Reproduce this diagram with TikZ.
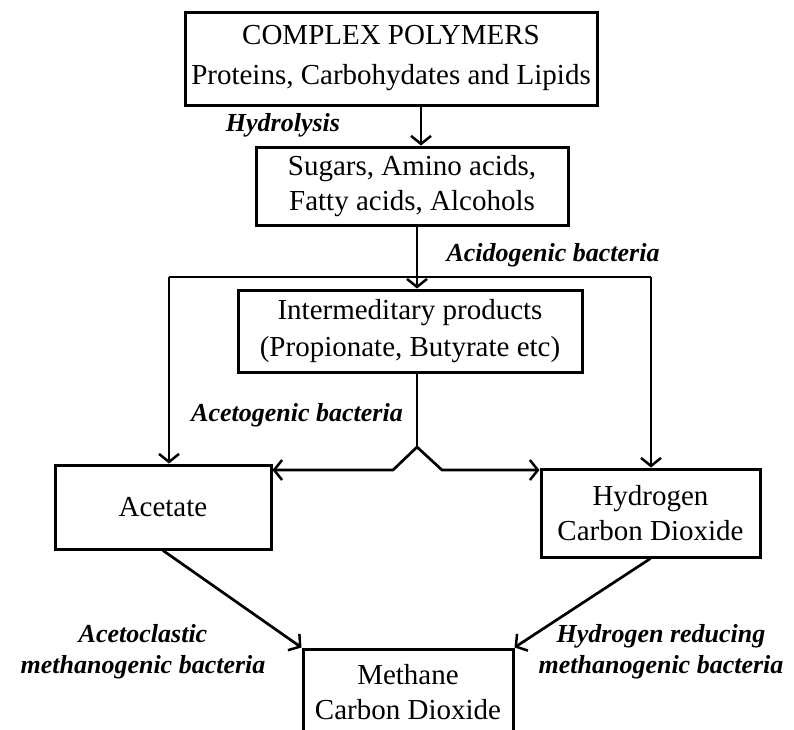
\documentclass[tikz,border=0pt]{standalone}
\usepackage{fontspec}
\setmainfont{Liberation Serif}
\usepackage{tikz}
\usetikzlibrary{positioning,arrows.meta,calc}

\begin{document}
\begin{tikzpicture}[
    x=1pt, y=-1pt,
    box/.style={rectangle, draw, line width=3pt, align=center, inner sep=0pt, font=\fontsize{29}{37}\selectfont},
    lbl/.style={align=center, inner sep=0pt, font=\fontsize{26}{31}\selectfont\bfseries\itshape},
    line/.style={line width=2.7pt},
    arr/.style={line width=2.7pt, -{Straight Barb[length=8pt, width=20pt, line width=2.5pt]}},
]
\clip (0,0) rectangle (794,729);
\node[box, minimum width=412, minimum height=93, font=\fontsize{29}{40}\selectfont] (poly) at (391,58.5) {COMPLEX POLYMERS\\Proteins, Carbohydates and Lipids};
\node[box, minimum width=312, minimum height=78, font=\fontsize{29}{35}\selectfont] (sugars) at (412,186) {Sugars, Amino acids,\\Fatty acids, Alcohols};
\node[box, minimum width=344, minimum height=82] (inter) at (410,331) {Intermeditary products\\(Propionate, Butyrate etc)};
\node[box, minimum width=216, minimum height=84] (acetate) at (163,507) {Acetate};
\node[box, minimum width=219, minimum height=88, font=\fontsize{29}{35}\selectfont] (hydro) at (650.5,513) {Hydrogen\\Carbon Dioxide};
\node[box, minimum width=210, minimum height=87, font=\fontsize{29}{35}\selectfont] (methane) at (408,692.5) {Methane\\Carbon Dioxide};

\node[lbl] (hydlbl) at (283,125) {Hydrolysis};
\node[lbl] (acidlbl) at (553,255) {Acidogenic bacteria};
\node[lbl] (acetolbl) at (297,415) {Acetogenic bacteria};
\node[lbl] (aclastlbl) at (143,652) {Acetoclastic\\methanogenic bacteria};
\node[lbl] (hredlbl) at (661,652) {Hydrogen reducing\\methanogenic bacteria};

\coordinate (hyx) at (421,125);
\coordinate (acl) at (169,277);
\coordinate (acx) at (417,277);
\coordinate (acr) at (651,277);
\coordinate (apex) at (417,447);
\coordinate (fl) at (393,470);
\coordinate (fr) at (442,470);

\draw[arr] (poly.south -| hyx) -- (sugars.north -| hyx);
\draw[arr] (sugars.south -| acx) -- (inter.north -| acx);
\draw[line] (acl) -- (acr);
\draw[arr] (acl) -- (acl |- acetate.north);
\draw[arr] (acr) -- (acr |- hydro.north);
\draw[line] (inter.south -| apex) -- (apex);
\draw[arr] (apex) -- (fl) -- (fl -| acetate.east);
\draw[arr] (apex) -- (fr) -- (fr -| hydro.west);
\draw[arr] (acetate.south) -- (methane.north west);
\draw[arr] (hydro.south) -- (methane.north east);
\end{tikzpicture}
\end{document}
